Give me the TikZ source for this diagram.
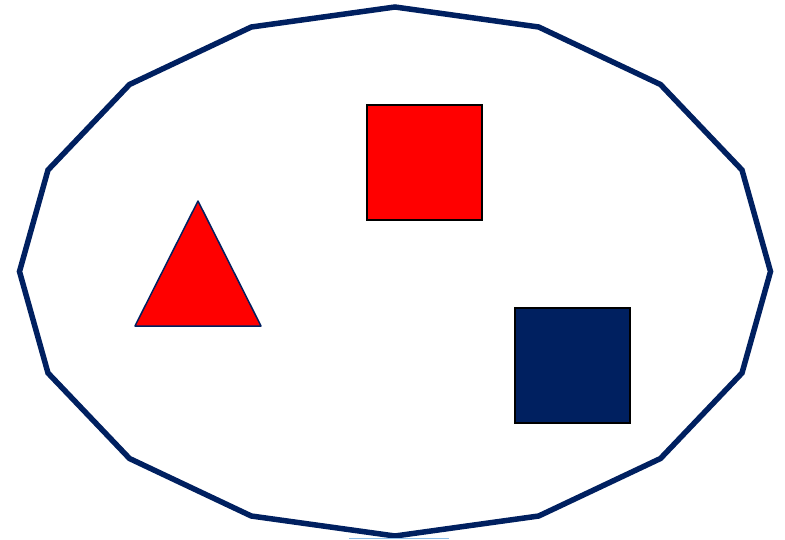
\documentclass[tikz,border=0pt]{standalone}
\begin{document}
\begin{tikzpicture}[x=1pt,y=-1pt]
\definecolor{navyc}{HTML}{002060}
\definecolor{lightb}{HTML}{8FC0EA}
\useasboundingbox (0,0) rectangle (785,539);
\fill[white] (0,0) rectangle (785,539);
\draw[navyc,line width=5.5pt,line join=miter]
  (770.5,271.5) -- (742,170) -- (660.5,84.5) -- (538.7,27) -- (395,7) -- (251.3,27) -- (129.5,84.5) -- (48,170) -- (19.5,271.5) -- (48,373) -- (129.5,458.5) -- (251.3,516) -- (395,536) -- (538.7,516) -- (660.5,458.5) -- (742,373) -- cycle;
\node[draw=black,fill=red,line width=1.5pt,minimum size=115pt,inner sep=0pt] (rsq) at (424.5,162.5) {};
\node[draw=black,fill=navyc,line width=1.5pt,minimum size=115pt,inner sep=0pt] (nsq) at (572.5,365.5) {};
\draw[navyc,fill=red,line width=1.5pt,line join=round] (198,201) -- (261,326) -- (135,326) -- cycle;
\coordinate (la) at (349,538);
\coordinate (lb) at (449,538);
\draw[lightb,line width=1pt] (la) -- (lb);
\end{tikzpicture}
\end{document}
